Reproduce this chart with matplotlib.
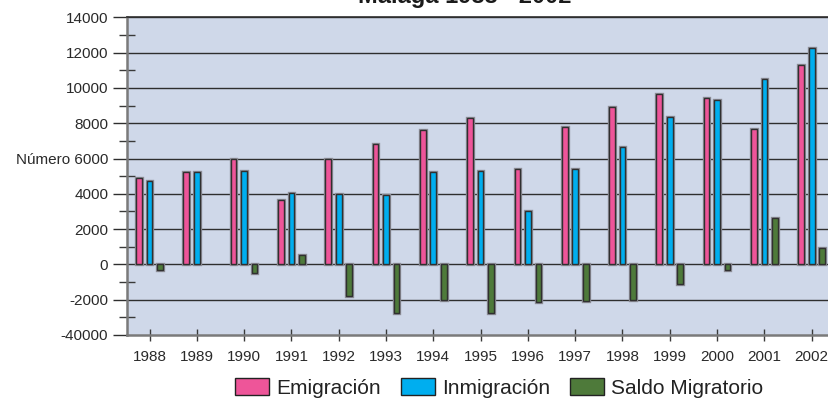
import matplotlib
matplotlib.use("Agg")
import matplotlib.pyplot as plt
import matplotlib.patheffects as pe
import numpy as np

plt.rcParams['font.family'] = ['Liberation Sans', 'DejaVu Sans']

years = ['1988', '1989', '1990', '1991', '1992', '1993', '1994', '1995',
         '1996', '1997', '1998', '1999', '2000', '2001', '2002']
emigracion = [4900, 5250, 6000, 3650, 6000, 6800, 7600, 8300,
              5400, 7800, 8900, 9650, 9400, 7650, 11300]
inmigracion = [4700, 5250, 5300, 4050, 4000, 3950, 5250, 5300,
               3050, 5400, 6650, 8350, 9300, 10500, 12250]
saldo = [-300, 0, -500, 550, -1800, -2750, -2000, -2750,
         -2150, -2100, -2000, -1100, -300, 2650, 950]

ytick_vals = [14000, 12000, 10000, 8000, 6000, 4000, 2000, 0, -2000, -4000]
ytick_labels = ['14000', '12000', '10000', '8000', 'Número 6000', '4000',
                '2000', '0', '-2000', '-40000']
yminor_vals = [13000, 11000, 9000, 7000, 5000, 3000, 1000, -1000, -3000]

c_emi = '#EE5599'
c_inm = '#00AEEF'
c_sal = '#4E7A3A'
bg = '#CFD8E9'

W, H = 829, 399
fig = plt.figure(figsize=(W / 100, H / 100), dpi=100)
ax = fig.add_axes([127 / W, (H - 335) / H, 1 - 127 / W, (335 - 17.3) / H])
ax.set_facecolor(bg)

x = np.arange(len(years))
off = 0.222
bw = 0.12
shadow = [pe.withStroke(linewidth=2.4, foreground='#8d8d96')]
kw = dict(width=bw, edgecolor='#303030', linewidth=1.0, zorder=3)
for vals, dx, col, lab in [(emigracion, -off, c_emi, 'Emigración'),
                           (inmigracion, 0, c_inm, 'Inmigración'),
                           (saldo, off, c_sal, 'Saldo Migratorio')]:
    bars = ax.bar(x + dx, vals, color=col, label=lab, **kw)
    for b, v in zip(bars, vals):
        if v == 0:
            b.set_visible(False)
        b.set_path_effects(shadow)

ax.set_xlim(-0.476, 14.366)
ax.set_ylim(-4000, 14000)

# grid lines at each labelled value
for v in ytick_vals[:-1]:
    ax.axhline(v, color='#2e2e2e', linewidth=1.0, zorder=2)

ax.set_yticks(ytick_vals)
ax.set_yticklabels(ytick_labels)
ax.set_yticks(yminor_vals, minor=True)
ax.tick_params(axis='y', which='major', direction='out', length=10,
               width=1.0, color='#2e2e2e', pad=3.5, labelsize=11,
               labelcolor='#2a2a2a')
ax.tick_params(axis='y', which='minor', direction='inout', length=12,
               width=1.0, color='#3a3a3a')

ax.set_xticks(x)
ax.set_xticklabels(years)
ax.tick_params(axis='x', which='major', direction='inout', length=9,
               width=1.0, color='#3a3a3a', pad=6, labelsize=11,
               labelcolor='#2a2a2a')

for side in ['left', 'bottom']:
    ax.spines[side].set_color('#7a7a7a')
    ax.spines[side].set_linewidth(1.8)
ax.spines['top'].set_color('#2e2e2e')
ax.spines['top'].set_linewidth(1.2)
ax.spines['right'].set_visible(False)

fig.text(465 / W, 1 - 2.5 / H, 'Malaga 1988 - 2002', ha='center',
         va='baseline', fontsize=17, fontweight='bold', color='#1a1a1a')

leg = fig.legend(loc='center', bbox_to_anchor=(499 / W, 1 - 388 / H),
                 ncol=3, frameon=False, fontsize=15, handlelength=1.63,
                 handleheight=0.87, handletextpad=0.35, columnspacing=0.95,
                 borderpad=0, borderaxespad=0)
for h in leg.legend_handles:
    h.set_path_effects([])
    h.set_edgecolor('#222222')
for t in leg.get_texts():
    t.set_color('#222222')

fig.savefig('out.png', dpi=100)
